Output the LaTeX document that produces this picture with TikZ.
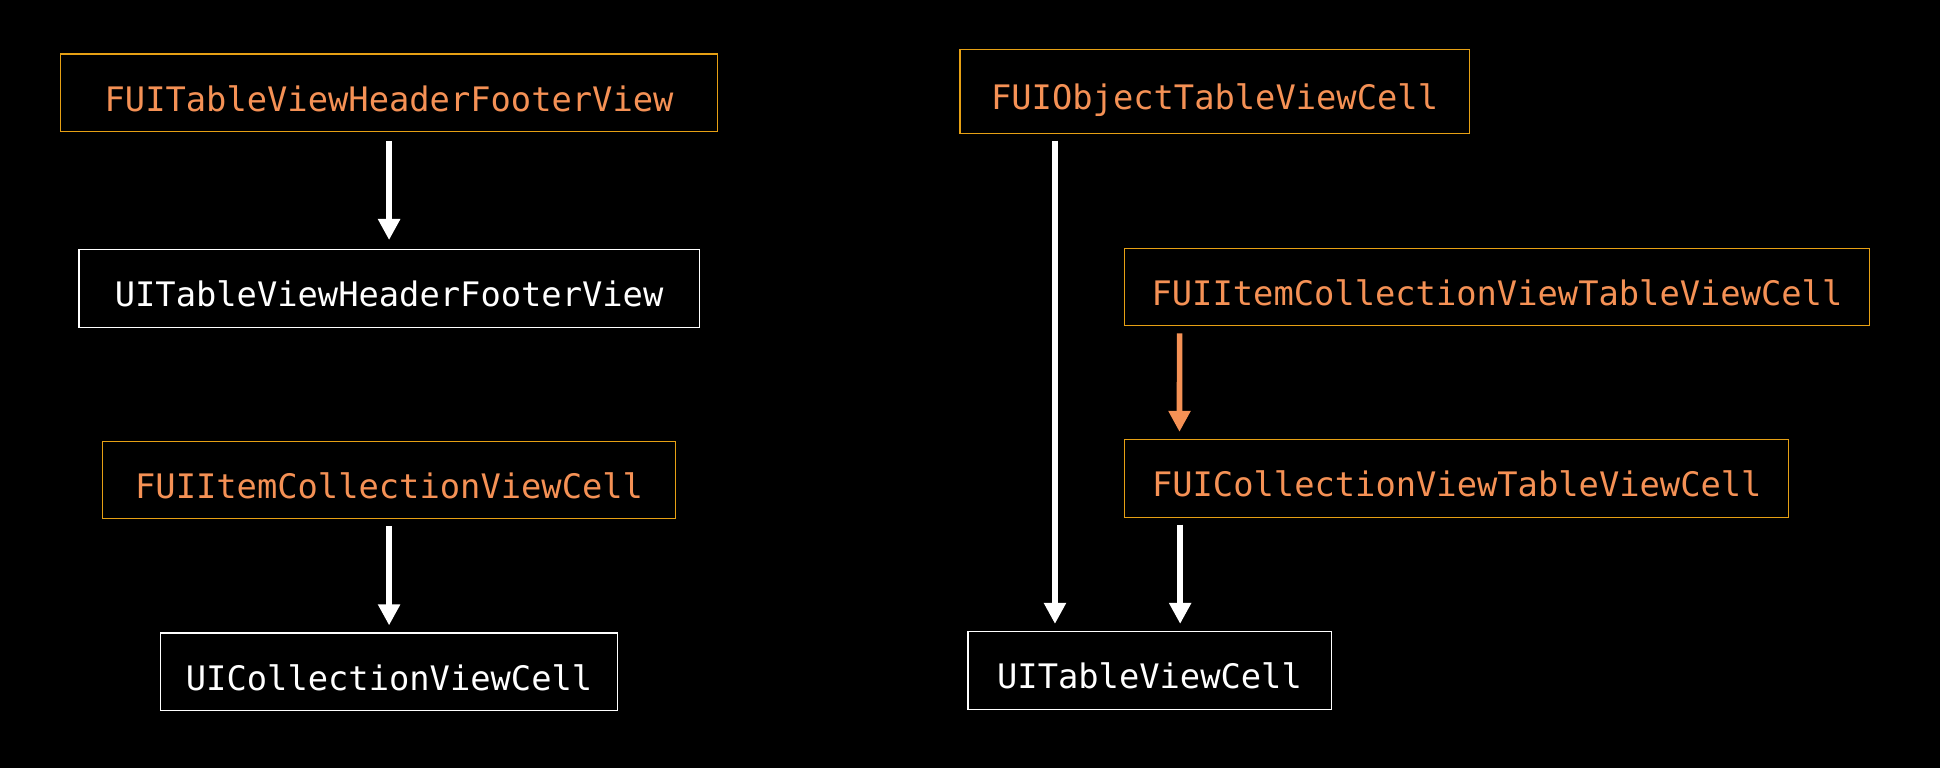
\documentclass[tikz,border=0pt]{standalone}
\usepackage{fontspec}
\setmonofont{DejaVu Sans Mono}
\usetikzlibrary{arrows.meta}
\definecolor{bordo}{RGB}{230,160,20}
\definecolor{arancio}{RGB}{245,145,85}
\tikzset{
    classe/.style={draw, line width=0.8pt, font=\ttfamily\fontsize{24}{28}\selectfont,
        text height=26.3pt, text depth=0pt, inner sep=0pt, minimum height=1.94cm},
    fui/.style={classe, draw=bordo, text=arancio},
    ui/.style={classe, draw=white, text=white},
    freccia/.style={line width=4pt, -{Triangle[length=15pt,width=15pt]},
        shorten <=5pt, shorten >=5pt}
}
\begin{document}
\begin{tikzpicture}[x=0.025cm, y=-0.025cm]
            %sfondo
            \fill[black] (0, 0) rectangle (1940, 768);
            %colonna sinistra
            \node[fui, minimum width=16.425cm] (fuiHF) at (389.1, 92.75) {FUITableViewHeaderFooterView};
            \node[ui, minimum width=15.5cm] (uiHF) at (389.1, 288.3) {UITableViewHeaderFooterView};
            \node[fui, minimum width=14.325cm] (fuiICV) at (389.1, 480) {FUIItemCollectionViewCell};
            \node[ui, minimum width=11.425cm] (uiCV) at (389.1, 671.8) {UICollectionViewCell};
            %colonna destra
            \node[fui, minimum width=12.725cm, minimum height=2.09cm] (fuiObj) at (1214.6, 91.3) {FUIObjectTableViewCell};
            \node[fui, minimum width=18.6cm] (fuiICVT) at (1497, 287) {FUIItemCollectionViewTableViewCell};
            \node[fui, minimum width=16.6cm] (fuiCVT) at (1456.8, 478.3) {FUICollectionViewTableViewCell};
            \node[ui, minimum width=9.075cm] (uiCell) at (1149.5, 670.3) {UITableViewCell};
            %frecce
            \draw[freccia, white, shorten <=6.3pt, shorten >=6.3pt] (fuiHF) -- (uiHF);
            \draw[freccia, white] (fuiICV) -- (uiCV);
            \draw[freccia, white] ([shift={(95.5, 0)}]fuiObj.south west) -- ([shift={(95.5, 0)}]fuiObj.south west |- uiCell.north);
            \draw[freccia, arancio] ([shift={(55.3, 0)}]fuiICVT.south west) -- ([shift={(55.3, 0)}]fuiCVT.north west);
            \draw[freccia, white] ([shift={(56, 0)}]fuiCVT.south west) -- ([shift={(56, 0)}]fuiCVT.south west |- uiCell.north);
\end{tikzpicture}
\end{document}
